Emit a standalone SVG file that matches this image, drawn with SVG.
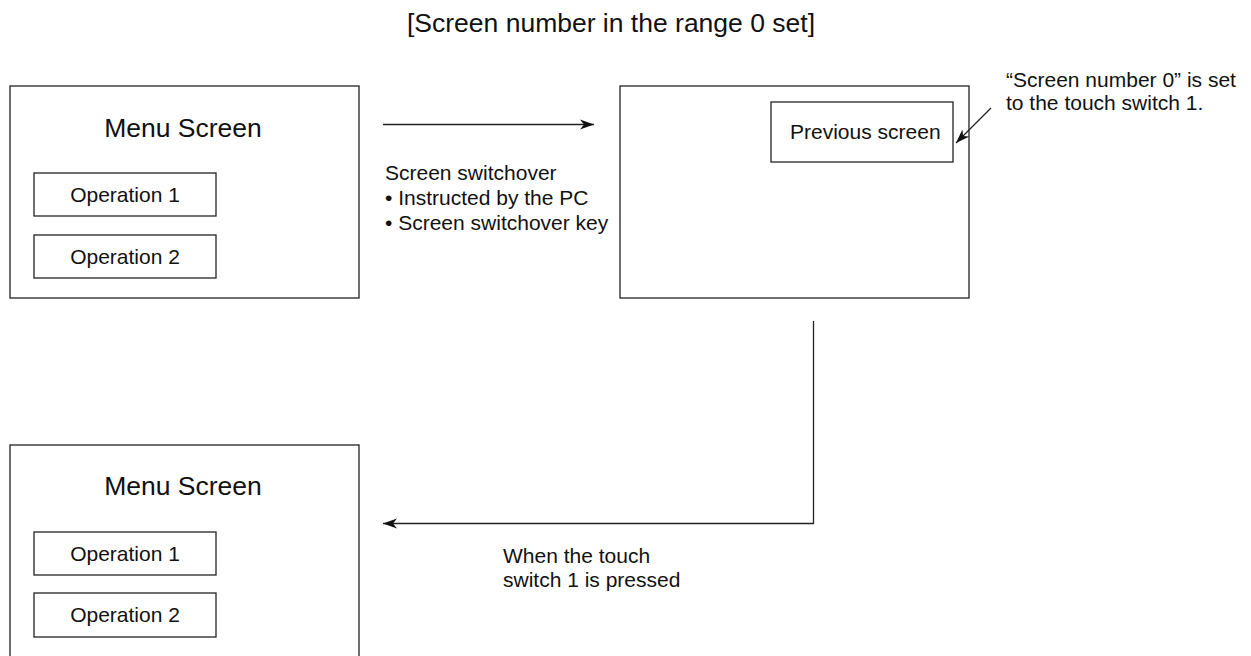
<svg xmlns="http://www.w3.org/2000/svg" width="1251" height="656" viewBox="0 0 1251 656">
<style>
.box{fill:#fff;stroke:#222;stroke-width:1.3}
.t{font-family:"Liberation Sans",Arial,sans-serif;fill:#111}
.big{font-size:26.5px}
.mid{font-size:21px}
.c{text-anchor:middle}
.ln{fill:none;stroke:#222;stroke-width:1.3}
</style>
<defs>
<marker id="ah" markerUnits="userSpaceOnUse" markerWidth="16" markerHeight="12" refX="14" refY="5.5" orient="auto">
<path d="M0,0.5 L14,5.5 L0,10.5 L4,5.5 Z" fill="#111"/>
</marker>
</defs>
<rect width="1251" height="656" fill="#fff"/>
<text class="t big c" x="611" y="32">[Screen number in the range 0 set]</text>
<g id="menu1">
<rect class="box" x="10" y="86" width="349" height="212"/>
<text class="t big c" x="183" y="137">Menu Screen</text>
<rect class="box" x="34" y="173" width="182" height="43"/>
<text class="t mid c" x="125" y="202">Operation 1</text>
<rect class="box" x="34" y="235" width="182" height="43"/>
<text class="t mid c" x="125" y="264">Operation 2</text>
</g>
<g id="screen2">
<rect class="box" x="620" y="86" width="349" height="212"/>
<rect class="box" x="771" y="102" width="182" height="60"/>
<text class="t mid" x="790" y="139">Previous screen</text>
</g>
<g id="menu2">
<rect class="box" x="10" y="445" width="349" height="220"/>
<text class="t big c" x="183" y="495">Menu Screen</text>
<rect class="box" x="34" y="532" width="182" height="43"/>
<text class="t mid c" x="125" y="561">Operation 1</text>
<rect class="box" x="34" y="593" width="182" height="44"/>
<text class="t mid c" x="125" y="622">Operation 2</text>
</g>
<g id="connectors">
<line class="ln" x1="383" y1="124.5" x2="594" y2="124.5" marker-end="url(#ah)"/>
<path class="ln" d="M813.5,321 V523.5 H383" marker-end="url(#ah)"/>
<line class="ln" x1="991" y1="108" x2="956" y2="143" marker-end="url(#ah)"/>
</g>
<g id="labels">
<text class="t mid" x="385" y="180">Screen switchover</text>
<text class="t mid" x="385" y="205">• Instructed by the PC</text>
<text class="t mid" x="385" y="230">• Screen switchover key</text>
<text class="t mid" x="503" y="563">When the touch</text>
<text class="t mid" x="503" y="587">switch 1 is pressed</text>
<text class="t mid" x="1006" y="87">“Screen number 0” is set</text>
<text class="t mid" x="1006" y="110">to the touch switch 1.</text>
</g>
</svg>
